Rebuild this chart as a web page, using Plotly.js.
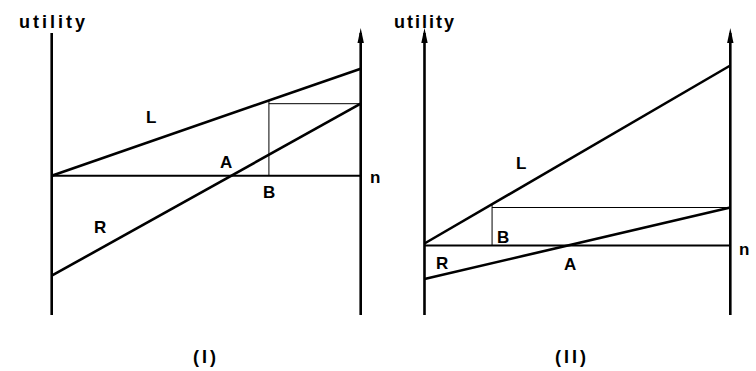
<!DOCTYPE html>
<html>
<head>
<meta charset="utf-8">
<script src="https://cdn.plot.ly/plotly-3.0.1.min.js"></script>
<style>html,body{margin:0;padding:0;background:#fff;}#chart{width:756px;height:371px;}</style>
</head>
<body>
<div id="chart"></div>
<script>
// Diagram values (x: 0 = left axis, 1 = right axis / n ; y: utility)
const xEnds = [0, 1];
// Panel (I)
const L1 = [0, 1.07];
const R1 = [-1.0, 0.72];
const B1 = 0.703;
const axisBottom1 = -1.393, leftTop1 = 1.427, arrowTop1 = 1.477;
// Panel (II)
const L2 = [0.02, 1.80];
const R2 = [-0.335, 0.38];
const B2 = 0.221;
const axisBottom2 = -0.695, arrowTop2 = 2.175;

const panelLabels = ['(I)', '(II)'];
const yLabel = 'utility';
const nLabel = 'n';

function lerp(a, t) { return a[0] + (a[1] - a[0]) * t; }

const thick = {color: '#000', width: 2.6};
const thin = {color: '#000', width: 1};

function panelTraces(xa, ya, L, R, B, bottom, leftTop, rightTop) {
  const t = [];
  t.push({x: xEnds, y: L, xaxis: xa, yaxis: ya, mode: 'lines', line: thick});
  t.push({x: xEnds, y: R, xaxis: xa, yaxis: ya, mode: 'lines', line: thick});
  t.push({x: xEnds, y: [0, 0], xaxis: xa, yaxis: ya, mode: 'lines', line: {color: '#000', width: 2}});
  t.push({x: [B, B], y: [0, lerp(L, B)], xaxis: xa, yaxis: ya, mode: 'lines', line: thin});
  t.push({x: [B, 1], y: [R[1], R[1]], xaxis: xa, yaxis: ya, mode: 'lines', line: thin});
  t.push({x: [0, 0], y: [bottom, leftTop], xaxis: xa, yaxis: ya, mode: 'lines', line: thick});
  t.push({x: [1, 1], y: [bottom, rightTop], xaxis: xa, yaxis: ya, mode: 'lines', line: thick});
  return t;
}

const data = [].concat(
  panelTraces('x', 'y', L1, R1, B1, axisBottom1, leftTop1, arrowTop1 - 0.05),
  panelTraces('x2', 'y2', L2, R2, B2, axisBottom2, arrowTop2 - 0.05, arrowTop2 - 0.05)
);

function arrowHead(xr, yr, x, top) {
  return {type: 'path', xref: xr, yref: yr, xsizemode: 'pixel', ysizemode: 'pixel',
    xanchor: x, yanchor: top, path: 'M0,0 L-3.2,-15 L3.2,-15 Z',
    fillcolor: '#000', line: {width: 0}, layer: 'above'};
}

const shapes = [
  arrowHead('x', 'y', 1, arrowTop1),
  arrowHead('x2', 'y2', 0, arrowTop2),
  arrowHead('x2', 'y2', 1, arrowTop2)
];

const lf = {family: 'Liberation Sans, Arial, sans-serif', size: 17, color: '#000', weight: 'bold'};
function lab(xr, yr, x, y, text, extra) {
  return Object.assign({xref: xr, yref: yr, x: x, y: y, text: text, showarrow: false, font: lf,
    xanchor: 'center', yanchor: 'middle'}, extra || {});
}
const pf = Object.assign({}, lf, {size: 18});
const uf = Object.assign({}, lf, {size: 18});

const annotations = [
  // panel I labels
  lab('x', 'y', 0.005, 1.537, '<span style="letter-spacing:3px">' + yLabel + '</span>', {font: uf}),
  lab('x', 'y', 0.321, 0.587, 'L'),
  lab('x', 'y', 0.564, 0.137, 'A'),
  lab('x', 'y', 0.703, -0.163, 'B'),
  lab('x', 'y', 0.156, -0.513, 'R'),
  lab('x', 'y', 1.045, -0.02, nLabel),
  lab('x', 'y', 0.5, -1.813, '<span style="letter-spacing:3px">' + panelLabels[0] + '</span>', {font: pf}),
  // panel II labels
  lab('x2', 'y2', 0.003, 2.235, '<span style="letter-spacing:2px">' + yLabel + '</span>', {font: uf}),
  lab('x2', 'y2', 0.316, 0.825, 'L'),
  lab('x2', 'y2', 0.257, 0.085, 'B'),
  lab('x2', 'y2', 0.057, -0.175, 'R'),
  lab('x2', 'y2', 0.476, -0.185, 'A'),
  lab('x2', 'y2', 1.045, -0.035, nLabel),
  lab('x2', 'y2', 0.482, -1.115, '<span style="letter-spacing:3px">' + panelLabels[1] + '</span>', {font: pf})
];

const hidden = {showgrid: false, zeroline: false, showticklabels: false, ticks: '', showline: false, fixedrange: true};

const layout = {
  width: 756, height: 371,
  margin: {l: 0, r: 0, t: 0, b: 0, pad: 0},
  paper_bgcolor: '#fff', plot_bgcolor: '#fff',
  showlegend: false,
  xaxis: Object.assign({}, hidden, {domain: [0, 0.5], range: [-0.1673, 1.056]}),
  yaxis: Object.assign({}, hidden, {domain: [0, 1], range: [-1.953, 1.757]}),
  xaxis2: Object.assign({}, hidden, {domain: [0.5, 1], range: [-0.152, 1.084], anchor: 'y2'}),
  yaxis2: Object.assign({}, hidden, {domain: [0, 1], range: [-1.255, 2.455], anchor: 'x2'}),
  annotations: annotations,
  shapes: shapes
};

Plotly.newPlot('chart', data, layout, {staticPlot: true, displayModeBar: false});
</script>
</body>
</html>
